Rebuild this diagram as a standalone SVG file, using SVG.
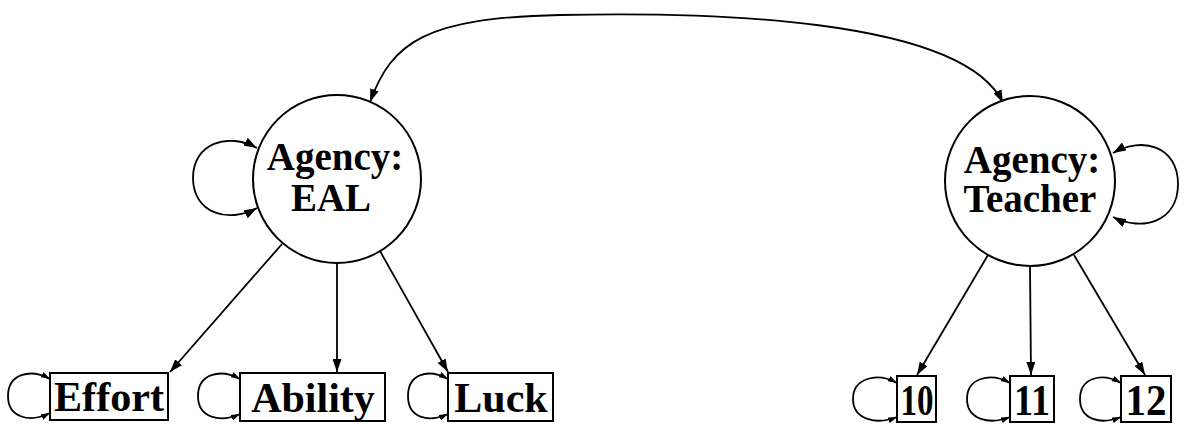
<svg xmlns="http://www.w3.org/2000/svg" width="1185" height="424" viewBox="0 0 1185 424">
<defs>
<style>
.node{fill:#fff;stroke:#000;stroke-width:2}
.edge{fill:none;stroke:#000;stroke-width:1.8}
.lbl{font-family:"Liberation Serif","Times New Roman",serif;font-weight:bold;fill:#000;text-anchor:middle}
.big{font-size:39px}
.box{font-size:42px}
.num{font-size:45px}
</style>
<marker id="ah" viewBox="0 0 13 9" refX="13" refY="4.5" markerWidth="13" markerHeight="9" markerUnits="userSpaceOnUse" orient="auto-start-reverse">
<path d="M0,0 L13,4.5 L0,9 z" fill="#000"/>
</marker>
<marker id="as" viewBox="0 0 9 6" refX="9" refY="3" markerWidth="9" markerHeight="6" markerUnits="userSpaceOnUse" orient="auto-start-reverse">
<path d="M0,0 L9,3 L0,6 z" fill="#000"/>
</marker>
</defs>
<rect width="1185" height="424" fill="#fff"/>
<g id="connectors">
<path class="edge" d="M370,102 C392,42 425,18 560,15 C700,12 962,16 1003,103" marker-start="url(#ah)" marker-end="url(#ah)"/>
<path class="edge" d="M257,148 C228,132 193,143 193,178 C193,213 228,224 257,208" marker-start="url(#ah)" marker-end="url(#ah)"/>
<path class="edge" d="M1113,153 C1142,136 1178,146 1178,184 C1178,222 1142,232 1113,217" marker-start="url(#ah)" marker-end="url(#ah)"/>
<line class="edge" x1="282" y1="244" x2="170" y2="372" marker-end="url(#ah)"/>
<line class="edge" x1="337" y1="263" x2="337" y2="372" marker-end="url(#ah)"/>
<line class="edge" x1="380" y1="251" x2="448" y2="372" marker-end="url(#ah)"/>
<line class="edge" x1="988" y1="255" x2="917" y2="375" marker-end="url(#ah)"/>
<line class="edge" x1="1030" y1="266" x2="1031" y2="375" marker-end="url(#ah)"/>
<line class="edge" x1="1074" y1="255" x2="1145" y2="375" marker-end="url(#ah)"/>
<path class="edge" d="M50,379 C30,368 8,374 8,396 C8,418 30,423 50,413" marker-start="url(#as)" marker-end="url(#as)"/>
<path class="edge" d="M240,379 C220,368 198,374 198,396 C198,418 220,423 240,414" marker-start="url(#as)" marker-end="url(#as)"/>
<path class="edge" d="M448,379 C428,368 408,374 408,396 C408,418 428,423 448,414" marker-start="url(#as)" marker-end="url(#as)"/>
<path class="edge" d="M897,383 C877,372 853,378 853,399 C853,420 877,425 897,417" marker-start="url(#as)" marker-end="url(#as)"/>
<path class="edge" d="M1010,383 C990,372 967,378 967,399 C967,420 990,425 1010,417" marker-start="url(#as)" marker-end="url(#as)"/>
<path class="edge" d="M1121,383 C1101,372 1080,378 1080,399 C1080,420 1101,425 1121,417" marker-start="url(#as)" marker-end="url(#as)"/>
</g>
<g id="agency-eal">
<circle class="node" cx="337" cy="179" r="84"/>
<text class="lbl big" x="335" y="170">Agency:</text>
<text class="lbl big" x="331" y="211">EAL</text>
</g>
<g id="agency-teacher">
<circle class="node" cx="1030" cy="181" r="85"/>
<text class="lbl big" x="1032" y="173">Agency:</text>
<text class="lbl big" x="1030" y="212">Teacher</text>
</g>
<g id="effort">
<rect class="node" x="50" y="373" width="118" height="47"/>
<text class="lbl box" x="109" y="411" textLength="110" lengthAdjust="spacingAndGlyphs">Effort</text>
</g>
<g id="ability">
<rect class="node" x="240" y="373" width="145" height="48"/>
<text class="lbl box" x="313" y="412">Ability</text>
</g>
<g id="luck">
<rect class="node" x="448" y="373" width="105" height="48"/>
<text class="lbl box" x="501" y="412">Luck</text>
</g>
<g id="n10">
<rect class="node" x="897" y="376" width="39" height="46"/>
<text class="lbl num" x="917" y="415" textLength="33" lengthAdjust="spacingAndGlyphs">10</text>
</g>
<g id="n11">
<rect class="node" x="1010" y="376" width="44" height="46"/>
<text class="lbl num" x="1032" y="415" textLength="36" lengthAdjust="spacingAndGlyphs">11</text>
</g>
<g id="n12">
<rect class="node" x="1121" y="376" width="50" height="46"/>
<text class="lbl num" x="1146" y="415" textLength="41" lengthAdjust="spacingAndGlyphs">12</text>
</g>
</svg>
